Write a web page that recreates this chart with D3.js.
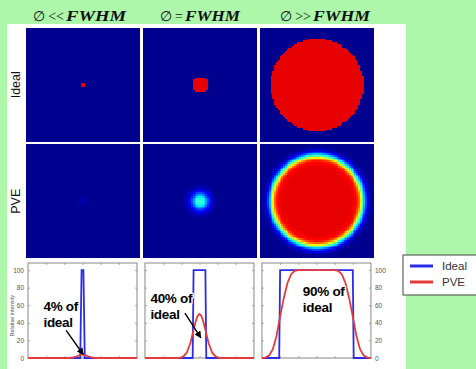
<!DOCTYPE html>
<html>
<head>
<meta charset="utf-8">
<script src="https://cdn.jsdelivr.net/npm/d3@7"></script>
<style>
  html, body { margin: 0; padding: 0; background: #acf7aa; }
  svg { display: block; }
  text { font-family: Arial, "Liberation Sans", sans-serif; }
</style>
</head>
<body>
<svg id="chart" width="476" height="369"></svg>
<script>
// column headings and row labels
const headSymbols = ["\u2205 <<", "\u2205 =", "\u2205 >>"];
const headUnit = "FWHM";
const rowLabels = ["Ideal", "PVE"];

// ideal images: disk radius (image units, image spans -50..50)
const idealRadius = [1.8, 6.8, 40.5];

// PVE images: radial profile
const pveRadius = [
  [0, 2.5, 4.5, 6, 50],
  [0, 2.6, 4.4, 6, 8, 10.5, 13, 16, 50],
  [0, 30, 35, 37, 38.6, 40, 41.2, 42.5, 44, 46, 48, 50]
];
const pveIntensity = [
  [5, 3, 1, 0, 0],
  [50, 45, 38, 28, 18, 9, 3, 0, 0],
  [100, 100, 96, 85, 68, 50, 38, 24, 13, 5, 1, 0]
];

// line profiles through the centre (x: -60..60, y: relative intensity)
const idealProfileX = [
  [-60, -2.5, -1, 1, 2.5, 60],
  [-60, -7.5, -6.5, 6.5, 7.5, 60],
  [-60, -41, -40, 40, 41, 60]
];
const idealProfileY = [
  [0, 0, 100, 100, 0, 0],
  [0, 0, 100, 100, 0, 0],
  [0, 0, 100, 100, 0, 0]
];
const pveProfileX = [
  [-60, -14, -10, -6, -3, 0, 3, 6, 10, 14, 60],
  [-60, -22, -18, -14, -10, -7, -4, -2, 0, 2, 4, 7, 10, 14, 18, 22, 60],
  [-60, -56, -52, -48, -44, -40, -36, -32, -28, -24, -20, 20, 24, 28, 32, 36, 40, 44, 48, 52, 56, 60]
];
const pveProfileY = [
  [0, 0, 0.6, 2, 3.4, 4, 3.4, 2, 0.6, 0, 0],
  [0, 0, 1.5, 6, 17, 30, 42, 48, 50, 48, 42, 30, 17, 6, 1.5, 0, 0],
  [0, 0.5, 3, 10, 25, 47, 68, 85, 95, 99, 100, 100, 99, 95, 85, 68, 47, 25, 10, 3, 0.5, 0]
];

const yTicks = [0, 20, 40, 60, 80, 100];
const xTicks = [-40, -20, 0, 20, 40];
const yLabel = "Relative intensity";

// annotations: text lines, anchor (x, y) and arrow (x1, y1, x2, y2) in plot units
const noteLines = [["4% of", "ideal"], ["40% of", "ideal"], ["90% of", "ideal"]];
const noteAnchor = [[-43, 53], [-54, 62.5], [-15, 70.5]];
const noteArrow = [[-18, 31.5, 0.8, 4], [-16, 51, 1.5, 23], null];

const legendLabels = ["Ideal", "PVE"];
const seriesColors = ["#2b2be8", "#e53a3c"];

const svg = d3.select("#chart");

// white sheet
svg.append("rect")
  .attr("x", 7).attr("y", 24)
  .attr("width", 399).attr("height", 345)
  .attr("fill", "#fff");

const col = d3.scaleBand().domain(d3.range(3)).range([26, 374]).paddingInner(0.025);
const row = d3.scaleBand().domain(d3.range(2)).range([28, 258]).paddingInner(0.025);

// jet colour map
const jet = d3.scaleLinear()
  .domain([0, 0.125, 0.375, 0.625, 0.875, 1])
  .range(["#00008f", "#0000ff", "#00ffff", "#ffff00", "#ff0000", "#800000"])
  .clamp(true);
const toT = d3.scaleLinear().domain([0, 100]).range([0, 0.9]);

// headings
const headOffset = [[-17, 60], [-15, 55], [-4, 57]];
headSymbols.forEach((s, i) => {
  const cx = col(i) + col.bandwidth() / 2;
  svg.append("text")
    .attr("x", cx + headOffset[i][0] - 2)
    .attr("y", 21)
    .attr("text-anchor", "end")
    .style("font-family", "'Liberation Serif', 'DejaVu Serif', serif")
    .style("font-size", "14px")
    .attr("fill", "#111")
    .text(s);
  svg.append("text")
    .attr("x", cx + headOffset[i][0])
    .attr("y", 21)
    .attr("textLength", headOffset[i][1])
    .attr("lengthAdjust", "spacingAndGlyphs")
    .style("font-family", "'Liberation Serif', serif")
    .style("font-size", "14px")
    .style("font-weight", "bold")
    .style("font-style", "italic")
    .attr("fill", "#111")
    .text(headUnit);
});

// row labels
rowLabels.forEach((r, j) => {
  const cy = row(j) + row.bandwidth() / 2;
  svg.append("text")
    .attr("transform", `translate(20,${cy}) rotate(-90)`)
    .attr("text-anchor", "middle")
    .style("font-size", "12.5px")
    .attr("fill", "#111")
    .text(r);
});

// heat images
const nCells = 64;
const cellIdx = d3.scaleBand().domain(d3.range(nCells)).range([-50, 50]);
const cells = [];
d3.range(nCells).forEach(i => d3.range(nCells).forEach(j => cells.push({ i, j })));

function drawImage(ci, rj, valueAt) {
  const ix = d3.scaleLinear().domain([-50, 50]).range([col(ci), col(ci) + col.bandwidth()]);
  const iy = d3.scaleLinear().domain([-50, 50]).range([row(rj), row(rj) + row.bandwidth()]);
  const g = svg.append("g").attr("shape-rendering", "crispEdges");
  g.append("rect")
    .attr("x", ix(-50)).attr("y", iy(-50))
    .attr("width", ix(50) - ix(-50)).attr("height", iy(50) - iy(-50))
    .attr("fill", jet(0));
  const h = cellIdx.bandwidth();
  const data = cells.map(c => {
    const x = cellIdx(c.i) + h / 2, y = cellIdx(c.j) + h / 2;
    return { ...c, v: valueAt(Math.hypot(x, y)) };
  }).filter(c => c.v > 0.3);
  g.selectAll("rect.cell")
    .data(data)
    .enter()
    .append("rect")
    .attr("class", "cell")
    .attr("x", d => ix(cellIdx(d.i)))
    .attr("y", d => iy(cellIdx(d.j)))
    .attr("width", ix(h) - ix(0) + 0.4)
    .attr("height", iy(h) - iy(0) + 0.4)
    .attr("fill", d => jet(toT(d.v)));
}

idealRadius.forEach((r, i) => drawImage(i, 0, d => (d <= r ? 100 : 0)));
pveRadius.forEach((radii, i) => {
  const prof = d3.scaleLinear().domain(radii).range(pveIntensity[i]).clamp(true);
  drawImage(i, 1, d => prof(d));
});

// profile plots
const y = d3.scaleLinear().domain([0, 108]).range([358, 263]);
const defs = svg.append("defs");
defs.append("marker")
  .attr("id", "arrow")
  .attr("viewBox", "0 0 10 10")
  .attr("refX", 9).attr("refY", 5)
  .attr("markerWidth", 5).attr("markerHeight", 5)
  .attr("orient", "auto")
  .append("path")
  .attr("d", "M0,0 L10,5 L0,10 z")
  .attr("fill", "#000");

d3.range(3).forEach(i => {
  const x = d3.scaleLinear().domain([-60, 60]).range([col(i) + 2, col(i) + 111]);
  const g = svg.append("g");

  // frame
  g.append("rect")
    .attr("x", x(-60)).attr("y", y(108))
    .attr("width", x(60) - x(-60)).attr("height", y(0) - y(108))
    .attr("fill", "#fff")
    .attr("stroke", "#6a6a6a")
    .attr("stroke-width", 0.8);

  const axes = [
    [d3.axisLeft(y).tickValues(yTicks), x(-60), 0, i === 0],
    [d3.axisRight(y).tickValues(yTicks), x(60), 0, i === 2],
    [d3.axisBottom(x).tickValues(xTicks), 0, y(0), false],
    [d3.axisTop(x).tickValues(xTicks), 0, y(108), false]
  ];
  axes.forEach(([ax, tx, ty, labels]) => {
    ax.tickSize(-2).tickPadding(4);
    if (!labels) ax.tickFormat("");
    const a = g.append("g")
      .attr("transform", `translate(${tx},${ty})`)
      .call(ax);
    a.select(".domain").remove();
    a.selectAll("line").attr("stroke", "#777").attr("stroke-width", 0.6);
    a.selectAll("text")
      .style("font-size", "6.5px")
      .attr("fill", "#555");
  });

  if (i === 0) {
    g.append("text")
      .attr("transform", `translate(14,${y(48)}) rotate(-90)`)
      .attr("text-anchor", "middle")
      .style("font-size", "5.5px")
      .attr("fill", "#555")
      .text(yLabel);
  }

  const line = d3.line().x(d => x(d[0])).y(d => y(d[1]));
  g.append("path")
    .datum(d3.zip(idealProfileX[i], idealProfileY[i]))
    .attr("d", line)
    .attr("fill", "none")
    .attr("stroke", seriesColors[0])
    .attr("stroke-width", 1.8);
  g.append("path")
    .datum(d3.zip(pveProfileX[i], pveProfileY[i]))
    .attr("d", line)
    .attr("fill", "none")
    .attr("stroke", seriesColors[1])
    .attr("stroke-width", 1.8);

  // annotation
  const t = g.append("text")
    .attr("x", x(noteAnchor[i][0]))
    .attr("y", y(noteAnchor[i][1]))
    .style("font-size", "13.5px")
    .style("font-weight", "bold")
    .style("letter-spacing", "-0.3px")
    .attr("fill", "#000")
    .attr("stroke", "#fff")
    .attr("stroke-width", 2.5)
    .attr("paint-order", "stroke")
    .attr("stroke-linejoin", "round");
  noteLines[i].forEach((s, k) => {
    t.append("tspan")
      .attr("x", x(noteAnchor[i][0]))
      .attr("dy", k === 0 ? 0 : 16)
      .text(s);
  });
  if (noteArrow[i]) {
    const [x1, y1, x2, y2] = noteArrow[i];
    g.append("line")
      .attr("x1", x(x1)).attr("y1", y(y1))
      .attr("x2", x(x2)).attr("y2", y(y2))
      .attr("stroke", "#000")
      .attr("stroke-width", 1.4)
      .attr("marker-end", "url(#arrow)");
  }
});

// legend
const lg = svg.append("g").attr("transform", "translate(403,255)");
lg.append("rect")
  .attr("width", 80).attr("height", 40)
  .attr("fill", "#fff")
  .attr("stroke", "#444")
  .attr("stroke-width", 1);
legendLabels.forEach((s, k) => {
  lg.append("line")
    .attr("x1", 7).attr("x2", 30)
    .attr("y1", 11 + k * 16).attr("y2", 11 + k * 16)
    .attr("stroke", seriesColors[k])
    .attr("stroke-width", 3);
  lg.append("text")
    .attr("x", 39).attr("y", 15 + k * 16)
    .style("font-size", "11.5px")
    .attr("fill", "#333")
    .text(s);
});
</script>
</body>
</html>
